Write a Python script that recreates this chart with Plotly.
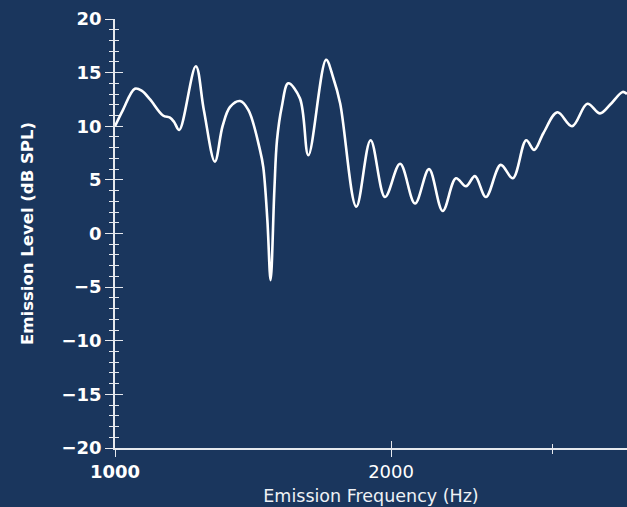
import numpy as np
import plotly.graph_objects as go

# Emission spectrum samples (frequency in Hz, level in dB SPL)
freq_hz = [1000, 1020, 1051, 1070, 1092, 1128, 1148, 1160, 1175, 1225, 1250,
           1285, 1310, 1335, 1369, 1398, 1439, 1451, 1466, 1478, 1492, 1502, 1520,
           1545, 1591, 1625, 1699, 1730, 1760, 1833, 1900, 1970, 2046, 2124,
           2200, 2277, 2354, 2414, 2469, 2538, 2634, 2715, 2808, 2865, 2932, 3037,
           3151, 3274, 3380, 3466, 3578, 3617]
level_db = [10.0, 11.5, 13.5, 13.3, 12.5, 11.0, 10.8, 10.4, 9.65, 15.6, 11.5,
            6.7, 10.0, 11.8, 12.35, 11.5, 7.8, 6.2, 1.3, -4.35, 4.0, 8.7, 11.8,
            14.0, 12.6, 7.3, 16.2, 14.5, 12.15, 2.5, 8.7, 3.4, 6.5, 2.8,
            6.0, 2.1, 5.15, 4.4, 5.35, 3.4, 6.4, 5.15, 8.7, 7.8, 9.35, 11.3,
            10.0, 12.1, 11.2, 12.0, 13.2, 13.0]

x_ticks = [1000, 2000]
x_tick_text = ["<b>1000</b>", "2000"]
x_minor_ticks = [3000]
y_range = [-20, 20]

BG = "#1a365d"
AX = "#e6e9ee"
x_range = [np.log10(1000), np.log10(3617)]

fig = go.Figure()
fig.add_trace(go.Scatter(
    x=freq_hz, y=level_db, mode="lines",
    line=dict(color="white", width=2.6, shape="spline", smoothing=1.0),
    hoverinfo="skip", showlegend=False,
))
# empty trace so the overlay axes (inner half of the crossing ticks) are drawn
fig.add_trace(go.Scatter(x=[], y=[], xaxis="x2", yaxis="y2", showlegend=False,
                         hoverinfo="skip"))

font_family = "DejaVu Sans"
fig.update_layout(
    width=627, height=507,
    margin=dict(l=115, r=0, t=19, b=59),
    paper_bgcolor=BG, plot_bgcolor=BG,
    font=dict(family=font_family, color="white"),
    xaxis=dict(
        type="log", range=x_range, showgrid=False, zeroline=False,
        showline=True, linecolor=AX, linewidth=1.5,
        tickmode="array", tickvals=x_ticks, ticktext=x_tick_text,
        ticks="outside", ticklen=7, tickcolor=AX, tickwidth=1.2,
        tickfont=dict(size=18, color="white"),
        minor=dict(tickmode="array", tickvals=x_minor_ticks, ticks="outside",
                   ticklen=4, tickcolor=AX, tickwidth=1.2),
        title=dict(text="Emission Frequency (Hz)", font=dict(size=17.5, color="#eef1f5"),
                   standoff=8),
    ),
    yaxis=dict(
        range=y_range, showgrid=False, zeroline=False,
        showline=True, linecolor=AX, linewidth=1.5,
        tickmode="linear", tick0=-20, dtick=5,
        ticks="outside", ticklen=8, tickcolor=AX, tickwidth=1.2,
        tickfont=dict(size=18, color="white", weight="bold"),
        minor=dict(dtick=1, ticks="outside", ticklen=4, tickcolor=AX, tickwidth=1.2),
        title=dict(text="<b>Emission Level (dB SPL)</b>", font=dict(size=16.5, color="white"),
                   standoff=24),
    ),
    xaxis2=dict(
        type="log", range=x_range, overlaying="x", side="bottom",
        showgrid=False, zeroline=False, showline=False, showticklabels=False,
        tickmode="array", tickvals=x_ticks, ticks="inside", ticklen=7,
        tickcolor=AX, tickwidth=1.2,
        minor=dict(tickmode="array", tickvals=x_minor_ticks, ticks="inside",
                   ticklen=4, tickcolor=AX, tickwidth=1.2),
    ),
    yaxis2=dict(
        range=y_range, overlaying="y", side="left",
        showgrid=False, zeroline=False, showline=False, showticklabels=False,
        tickmode="linear", tick0=-20, dtick=5, ticks="inside", ticklen=8,
        tickcolor=AX, tickwidth=1.2,
        minor=dict(dtick=1, ticks="inside", ticklen=4, tickcolor=AX, tickwidth=1.2),
    ),
)

fig.write_html("out.html")
